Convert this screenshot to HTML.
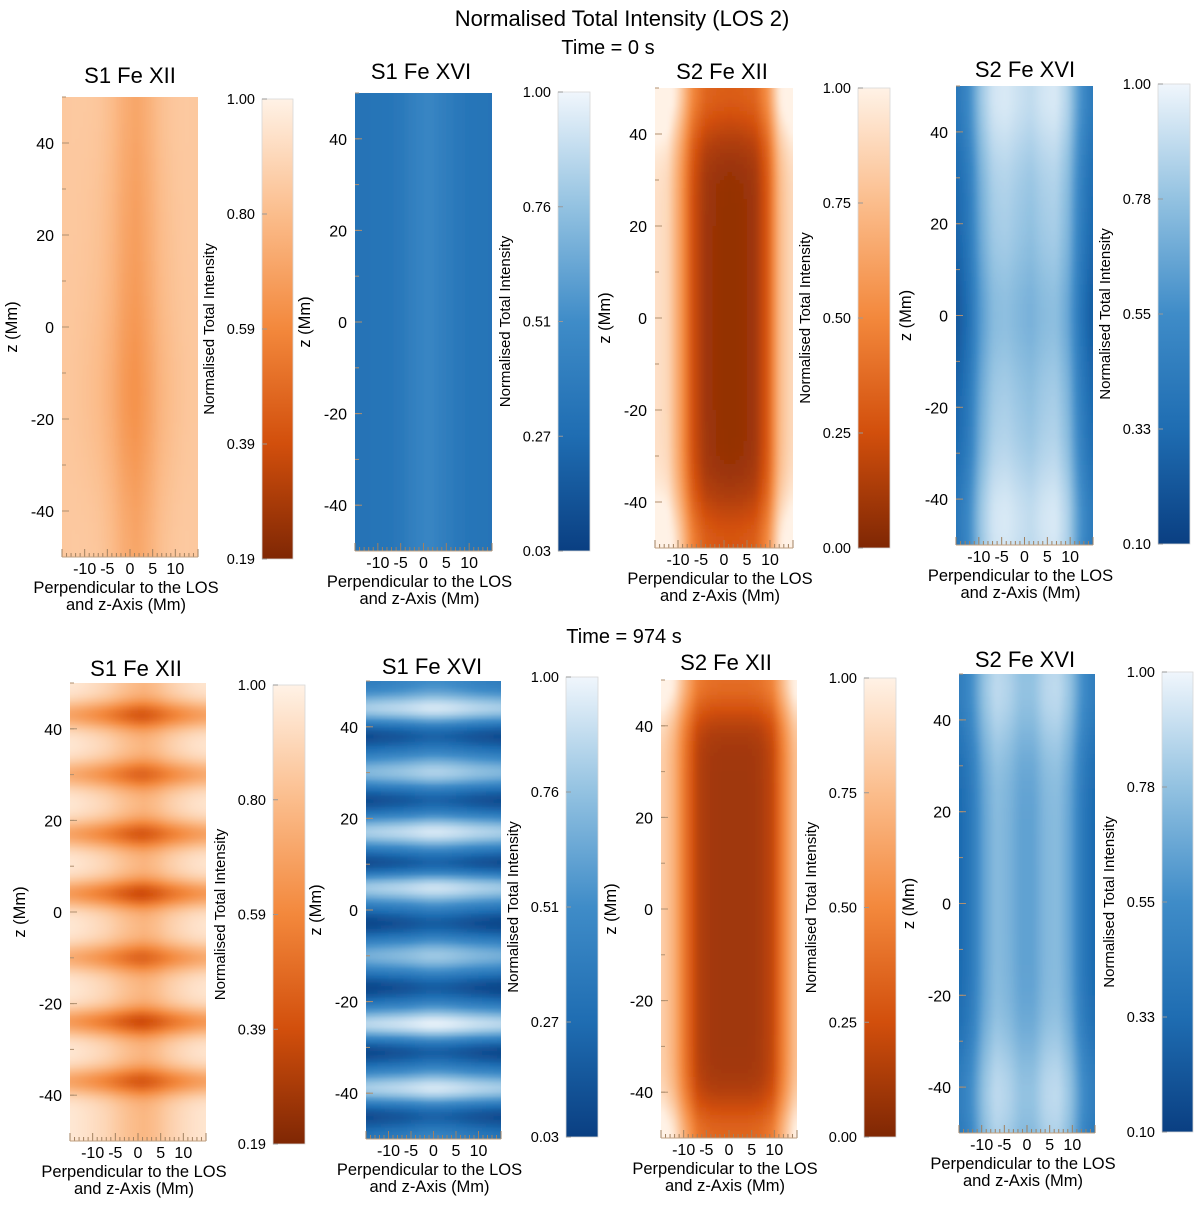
<!DOCTYPE html>
<html><head><meta charset="utf-8">
<style>
html,body{margin:0;padding:0;background:#fff;}
svg{display:block;font-family:"Liberation Sans",Arial,sans-serif;}
</style></head>
<body>
<svg id="fig" width="1200" height="1206" viewBox="0 0 1200 1206" xmlns="http://www.w3.org/2000/svg">
<defs>
<linearGradient id="gOr" x1="0" y1="1" x2="0" y2="0">
<stop offset="0" stop-color="#7f2704"/><stop offset="0.25" stop-color="#d24f0c"/><stop offset="0.5" stop-color="#f3883c"/><stop offset="0.75" stop-color="#fbbd8c"/><stop offset="1" stop-color="#fff2e6"/>
</linearGradient>
<linearGradient id="gBl" x1="0" y1="1" x2="0" y2="0">
<stop offset="0" stop-color="#0a3f82"/><stop offset="0.25" stop-color="#1f6db2"/><stop offset="0.5" stop-color="#3f8cc8"/><stop offset="0.75" stop-color="#93c2e1"/><stop offset="1" stop-color="#f0f6fc"/>
</linearGradient>
<filter id="blur" x="-10%" y="-10%" width="120%" height="120%"><feGaussianBlur stdDeviation="2.5 1.2"/></filter>
</defs>
<text x="622" y="26" font-size="22" text-anchor="middle">Normalised Total Intensity (LOS 2)</text>
<text x="608" y="54" font-size="20" text-anchor="middle">Time = 0 s</text>
<text x="624" y="643" font-size="20" text-anchor="middle">Time = 974 s</text>
</svg>
<script>
// ---- data: x cross-section profiles (x = -15..15 Mm), colormap position 0..1
const p1X=[0.80,0.80,0.79,0.77,0.72,0.64,0.60,0.66,0.74,0.78,0.80,0.80];
const p2X=[0.30,0.30,0.31,0.32,0.36,0.42,0.45,0.40,0.35,0.32,0.31,0.30];
const p3X=[0.92,0.88,0.60,0.25,0.10,0.07,0.06,0.07,0.10,0.30,0.75,0.90];
const p4X=[0.20,0.35,0.65,0.80,0.82,0.78,0.75,0.80,0.82,0.70,0.40,0.22];
const p5X=[0.95,0.93,0.90,0.86,0.80,0.75,0.72,0.76,0.83,0.88,0.92,0.94];
const p6X=[0.36,0.38,0.40,0.42,0.45,0.48,0.48,0.46,0.43,0.40,0.38,0.36];
const p7X=[0.85,0.70,0.40,0.16,0.11,0.10,0.10,0.10,0.12,0.20,0.50,0.80];
const p8X=[0.22,0.35,0.60,0.72,0.68,0.60,0.60,0.70,0.72,0.60,0.35,0.22];
// ---- data: z-direction features (z positions in Mm and amplitude offsets)
const p1BandZ=[50,-15,-50]; const p1BandA=[0.04,-0.06,0.04];
const p2BandZ=[0]; const p2BandA=[0];
const p3BandZ=[50,-50]; const p3BandA=[0.25,0.22];
const p4BandZ=[48,0,-45]; const p4BandA=[0.12,-0.08,0.12];
const p5BandZ=[43,30,17,4,-10,-24,-37]; const p5BandA=[-0.40,-0.35,-0.40,-0.45,-0.35,-0.45,-0.40];
const p6BandZ=[44,38,30,24,17,10,5,-3,-10,-17,-25,-31,-39,-45]; const p6BandA=[0.45,-0.3,0.35,-0.3,0.45,-0.32,0.45,-0.32,0.3,-0.32,0.5,-0.32,0.45,-0.3];
const p7BandZ=[50,-50]; const p7BandA=[0.28,0.25];
const p8BandZ=[47,-42]; const p8BandA=[0.15,0.15];
// ---- colorbar tick labels
const cbOrange1=["1.00","0.80","0.59","0.39","0.19"];
const cbBlue1=["1.00","0.76","0.51","0.27","0.03"];
const cbOrange2=["1.00","0.75","0.50","0.25","0.00"];
const cbBlue2=["1.00","0.78","0.55","0.33","0.10"];
const zTicks=[40,20,0,-20,-40];
const xTicks=[-10,-5,0,5,10];
const xTickLabels=["-10","-5","0","5","10"];

const OR=[[0,[127,39,4]],[0.25,[210,79,12]],[0.5,[243,136,60]],[0.75,[251,189,140]],[1,[255,242,230]]];
const BL=[[0,[10,63,130]],[0.25,[31,109,178]],[0.5,[63,140,200]],[0.75,[147,194,225]],[1,[240,246,252]]];
function cmap(m,t){t=Math.max(0,Math.min(1,t));for(let k=1;k<m.length;k++){if(t<=m[k][0]){const a=m[k-1],b=m[k];const f=(t-a[0])/(b[0]-a[0]);const c=a[1].map((v,i)=>Math.round(v+(b[1][i]-v)*f));return `rgb(${c[0]},${c[1]},${c[2]})`;}}const c=m[m.length-1][1];return `rgb(${c[0]},${c[1]},${c[2]})`;}

const svg=document.getElementById('fig');
const NS='http://www.w3.org/2000/svg';
function el(tag,attrs,parent){const e=document.createElementNS(NS,tag);for(const k in attrs)e.setAttribute(k,attrs[k]);(parent||svg).appendChild(e);return e;}

const panels=[
 {id:'p1',title:'S1 Fe XII',tx:130,ty:83,x0:62,x1:198,y0:97,y1:557,cb:[262,293,99,559],m:OR,g:'gOr',xp:p1X,bz:p1BandZ,ba:p1BandA,w:14,lab:cbOrange1},
 {id:'p2',title:'S1 Fe XVI',tx:421,ty:79,x0:355,x1:492,y0:93,y1:551,cb:[558,590,92,551],m:BL,g:'gBl',xp:p2X,bz:p2BandZ,ba:p2BandA,w:10,lab:cbBlue1},
 {id:'p3',title:'S2 Fe XII',tx:722,ty:79,x0:655,x1:793,y0:88,y1:548,cb:[858,890,88,548],m:OR,g:'gOr',xp:p3X,bz:p3BandZ,ba:p3BandA,w:8,lab:cbOrange2},
 {id:'p4',title:'S2 Fe XVI',tx:1025,ty:77,x0:956,x1:1093,y0:86,y1:545,cb:[1158,1190,84,544],m:BL,g:'gBl',xp:p4X,bz:p4BandZ,ba:p4BandA,w:10,lab:cbBlue2},
 {id:'p5',title:'S1 Fe XII',tx:136,ty:676,x0:70,x1:206,y0:683,y1:1141,cb:[273,305,685,1144],m:OR,g:'gOr',xp:p5X,bz:p5BandZ,ba:p5BandA,w:2.2,lab:cbOrange1},
 {id:'p6',title:'S1 Fe XVI',tx:432,ty:674,x0:366,x1:501,y0:681,y1:1139,cb:[566,598,677,1137],m:BL,g:'gBl',xp:p6X,bz:p6BandZ,ba:p6BandA,w:2.3,lab:cbBlue1},
 {id:'p7',title:'S2 Fe XII',tx:726,ty:670,x0:661,x1:797,y0:680,y1:1138,cb:[864,896,678,1137],m:OR,g:'gOr',xp:p7X,bz:p7BandZ,ba:p7BandA,w:6,lab:cbOrange2},
 {id:'p8',title:'S2 Fe XVI',tx:1025,ty:667,x0:959,x1:1095,y0:674,y1:1133,cb:[1162,1193,672,1132],m:BL,g:'gBl',xp:p8X,bz:p8BandZ,ba:p8BandA,w:10,lab:cbBlue2},
];

panels.forEach((p,pi)=>{
 const g=el('g',{});
 
 
 const t=el('text',{x:p.tx,y:p.ty,'font-size':22,'text-anchor':'middle'},g);
 t.textContent=p.title;
 
 
 const W=p.x1-p.x0,H=p.y1-p.y0;
 const sx=x=>p.x0+(x+15)/30*W;
 const sz=z=>p.y0+(50-z)/100*H;
 const clip=el('clipPath',{id:'c'+pi},g);
 el('rect',{x:p.x0,y:p.y0,width:W,height:H},clip);
 const hg=el('g',{'clip-path':`url(#c${pi})`},g);
 
 
 const inner=el('g',{filter:'url(#blur)'},hg);
 const NX=36,NZ=120;
 const cw=W/NX,ch=H/NZ;
 for(let j=-4;j<NZ+4;j++){
  const zc=50-(j+0.5)*100/NZ;
  const zz=Math.max(-50,Math.min(50,zc));
  let off=0;
  p.bz.forEach((bz,k)=>{off+=p.ba[k]*Math.exp(-((zz-bz)*(zz-bz))/(2*p.w*p.w));});
  for(let i=-3;i<NX+3;i++){
   const xc=-15+(Math.max(0,Math.min(NX-1,i))+0.5)*30/NX;
   const fi=(xc+15)/30*(p.xp.length-1);
   const i0=Math.floor(fi),i1=Math.min(p.xp.length-1,i0+1),f=fi-i0;
   const base=p.xp[i0]*(1-f)+p.xp[i1]*f;
   let v=base+off;
   if(p.id==='p5'){v=base+off*(1.1-0.3*Math.abs(xc)/15);}
   if(p.id==='p1'){v=base+off*(1-Math.abs(xc)/15);}
   const r=el('rect',{x:sx(-15)+i*cw,y:sz(50)+j*ch,width:cw+0.6,height:ch+0.6,fill:cmap(p.m,v)},inner);
   
   
  }
 }
 zTicks.forEach(z=>{
  const y=sz(z);
  el('line',{x1:p.x0,x2:p.x0+7,y1:y,y2:y,stroke:'#b09070','stroke-width':1},g);
  const tl=el('text',{x:p.x0-8,y:y+6,'font-size':16,'text-anchor':'end'},g);
  tl.textContent=z;
  
  
 });
 for(let z=-50;z<=50;z+=10){const y=sz(z);el('line',{x1:p.x0,x2:p.x0+4,y1:y,y2:y,stroke:'#b09070','stroke-width':1},g);}
 for(let x=-15;x<=15;x++){const X=sx(x);const L=(x%5===0)?8:4;el('line',{x1:X,x2:X,y1:p.y1,y2:p.y1-L,stroke:'#a08060','stroke-width':1},g);}
 el('line',{x1:p.x0,x2:p.x1,y1:p.y1,y2:p.y1,stroke:'#c0a080','stroke-width':1},g);
 xTicks.forEach((x,k)=>{
  const tl=el('text',{x:sx(x),y:p.y1+17,'font-size':16,'text-anchor':'middle'},g);
  tl.textContent=xTickLabels[k];
  
  
 });
 const cx=(p.x0+p.x1)/2;
 const xl1=el('text',{x:cx-4,y:p.y1+36,'font-size':16.5,'text-anchor':'middle'},g);
 xl1.textContent='Perpendicular to the LOS';
 
 
 const xl2=el('text',{x:cx-4,y:p.y1+53,'font-size':16.5,'text-anchor':'middle'},g);
 xl2.textContent='and z-Axis (Mm)';
 
 
 const ym=(p.y0+p.y1)/2;
 const yl=el('text',{x:0,y:0,'font-size':16.5,'text-anchor':'middle',transform:`translate(${p.x0-45},${ym}) rotate(-90)`},g);
 yl.textContent='z (Mm)';
 
 
 const [c0,c1,cy0,cy1]=p.cb;
 const cbr=el('rect',{x:c0,y:cy0,width:c1-c0,height:cy1-cy0,fill:`url(#${p.g})`,stroke:'#d8d8d8','stroke-width':0.8},g);
 
 
 p.lab.forEach((s,k)=>{
  const y=cy0+k*(cy1-cy0)/(p.lab.length-1);
  el('line',{x1:c0,x2:c0+5,y1:y,y2:y,stroke:'#999','stroke-width':1},g);
  const tl=el('text',{x:c0-7,y:y+5,'font-size':14.5,'text-anchor':'end'},g);
  tl.textContent=s;
  
  
 });
 const cl=el('text',{x:0,y:0,'font-size':15,'text-anchor':'middle',transform:`translate(${c0-48},${(cy0+cy1)/2}) rotate(-90)`},g);
 cl.textContent='Normalised Total Intensity';
 
 
});
</script>
</body></html>
